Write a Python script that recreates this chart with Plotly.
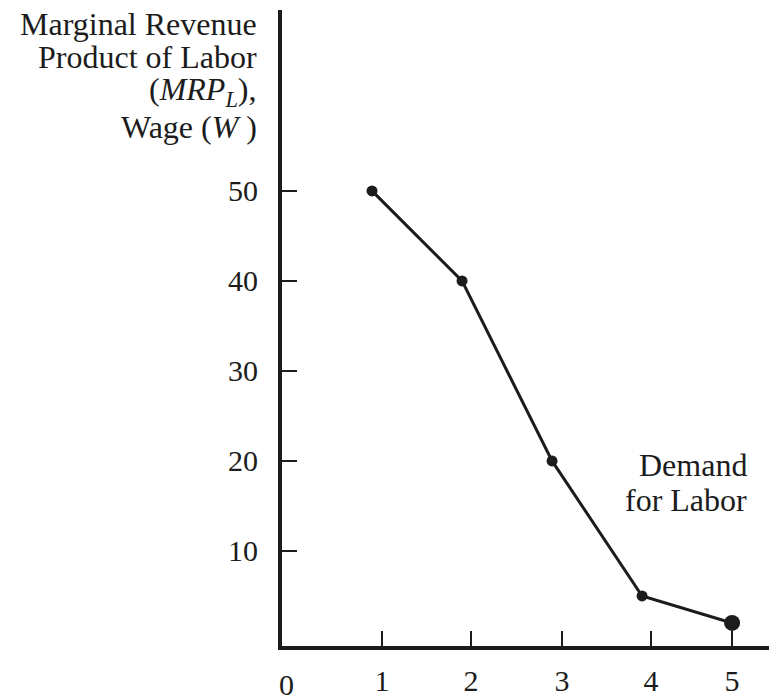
import plotly.graph_objects as go

# Data
labor_units = [1, 2, 3, 4, 5]
mrp_values = [50, 40, 20, 5, 2]
x_tick_positions = [1.11, 2.1, 3.11, 4.1, 5.0]
x_tick_labels = ["1", "2", "3", "4", "5"]
y_tick_values = [10, 20, 30, 40, 50]
y_tick_labels = ["10", "20", "30", "40", "50"]
title_lines = ["Marginal Revenue", "Product of Labor",
               "(<i>MRP<sub>L</sub></i>),", "Wage (<i>W</i> )"]
demand_lines = ["Demand", "for Labor"]

FONT = "Liberation Serif"
INK = "#1c1c1c"

# plot area in pixels (for placing the outside text)
L, T, W, H = 282, 10, 487, 636


def px_x(px):
    return (px - L) / W


def px_y(py):
    return (T + H - py) / H


fig = go.Figure()
fig.add_trace(go.Scatter(
    x=labor_units, y=mrp_values, mode="lines+markers",
    line=dict(color=INK, width=3),
    marker=dict(color=INK, size=[11, 11, 11, 11, 16], opacity=1,
                line=dict(width=0)),
    showlegend=False, hoverinfo="skip",
))

annotations = []
title_centers = [24, 57, 92, 127]
for text, cy in zip(title_lines, title_centers):
    annotations.append(dict(
        text=text, xref="paper", yref="paper", x=px_x(259), y=px_y(cy),
        xanchor="right", yanchor="middle", align="right", showarrow=False,
        font=dict(family=FONT, size=32, color=INK),
    ))
demand_centers = [465, 500]
for text, cy in zip(demand_lines, demand_centers):
    annotations.append(dict(
        text=text, xref="paper", yref="paper", x=px_x(749), y=px_y(cy),
        xanchor="right", yanchor="middle", align="right", showarrow=False,
        font=dict(family=FONT, size=32, color=INK),
    ))
annotations.append(dict(
    text="0", xref="x", yref="paper", x=0.055, y=px_y(684),
    xanchor="center", yanchor="middle", showarrow=False,
    font=dict(family=FONT, size=30, color=INK),
))

fig.update_layout(
    width=769, height=696,
    margin=dict(l=L, r=769 - L - W, t=T, b=696 - T - H, autoexpand=False),
    paper_bgcolor="white", plot_bgcolor="white",
    font=dict(family=FONT, size=30, color=INK),
    xaxis=dict(
        range=[0, 5.41], showgrid=False, zeroline=False,
        showline=True, linewidth=3.5, linecolor=INK,
        tickmode="array", tickvals=x_tick_positions, ticktext=x_tick_labels,
        ticks="inside", ticklen=15, tickwidth=1.5, tickcolor=INK,
        ticklabelstandoff=5, tickfont=dict(family=FONT, size=30, color=INK),
    ),
    yaxis=dict(
        range=[-0.56, 70.1], showgrid=False, zeroline=False,
        showline=True, linewidth=4, linecolor=INK,
        tickmode="array", tickvals=y_tick_values, ticktext=y_tick_labels,
        ticks="inside", ticklen=15, tickwidth=1.5, tickcolor=INK,
        ticklabelstandoff=14, tickfont=dict(family=FONT, size=30, color=INK),
    ),
    annotations=annotations,
)

fig.write_html(
    "out.html",
    config={"displayModeBar": False},
    post_script="document.body.style.margin='0';document.body.style.overflow='hidden';",
)
